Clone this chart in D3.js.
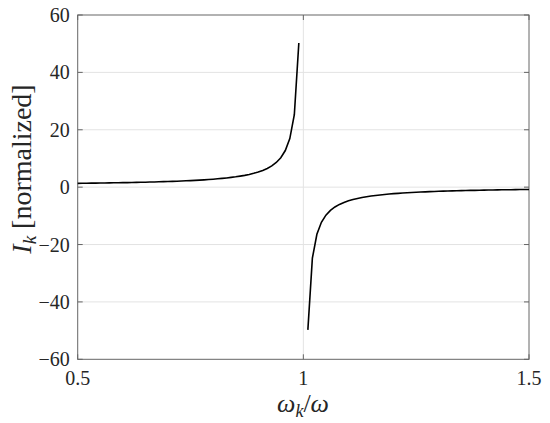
<!DOCTYPE html>
<html><head><meta charset="utf-8">
<script src="https://cdn.jsdelivr.net/npm/d3@7/dist/d3.min.js"></script>
<style>body{margin:0;background:#fff}svg{display:block}</style>
</head><body><svg id="c" width="550" height="423"></svg>
<script>
const xLeft = [0.50,0.51,0.52,0.53,0.54,0.55,0.56,0.57,0.58,0.59,0.60,0.61,0.62,0.63,0.64,0.65,0.66,0.67,0.68,0.69,0.70,0.71,0.72,0.73,0.74,0.75,0.76,0.77,0.78,0.79,0.80,0.81,0.82,0.83,0.84,0.85,0.86,0.87,0.88,0.89,0.90,0.91,0.92,0.93,0.94,0.95,0.96,0.97,0.98,0.99];
const yLeft = [1.33,1.35,1.37,1.39,1.41,1.43,1.46,1.48,1.51,1.53,1.56,1.59,1.62,1.66,1.69,1.73,1.77,1.81,1.86,1.91,1.96,2.02,2.08,2.14,2.21,2.29,2.37,2.46,2.55,2.66,2.78,2.91,3.05,3.21,3.40,3.60,3.84,4.11,4.43,4.81,5.26,5.82,6.51,7.40,8.59,10.26,12.76,16.92,25.25,50.25];
const xRight = [1.01,1.02,1.03,1.04,1.05,1.06,1.07,1.08,1.09,1.10,1.11,1.12,1.13,1.14,1.15,1.16,1.17,1.18,1.19,1.20,1.21,1.22,1.23,1.24,1.25,1.26,1.27,1.28,1.29,1.30,1.31,1.32,1.33,1.34,1.35,1.36,1.37,1.38,1.39,1.40,1.41,1.42,1.43,1.44,1.45,1.46,1.47,1.48,1.49,1.50];
const yRight = [-49.75,-24.75,-16.42,-12.25,-9.76,-8.09,-6.90,-6.01,-5.32,-4.76,-4.31,-3.93,-3.61,-3.34,-3.10,-2.89,-2.71,-2.55,-2.40,-2.27,-2.16,-2.05,-1.95,-1.86,-1.78,-1.70,-1.63,-1.57,-1.51,-1.45,-1.40,-1.35,-1.30,-1.26,-1.22,-1.18,-1.14,-1.11,-1.07,-1.04,-1.01,-0.98,-0.96,-0.93,-0.91,-0.88,-0.86,-0.84,-0.82,-0.80];
const xTicks = [0.5, 1, 1.5];
const xTickLabels = ["0.5", "1", "1.5"];
const yTicks = [-60, -40, -20, 0, 20, 40, 60];
const yTickLabels = ["\u221260", "\u221240", "\u221220", "0", "20", "40", "60"];

const svg = d3.select("#c");
const L = 77.7, R = 529, T = 15, B = 359.3;
const x = d3.scaleLinear().domain([0.5, 1.5]).range([L, R]);
const y = d3.scaleLinear().domain([-60, 60]).range([B, T]);
const font = "'Liberation Serif','Times New Roman',serif";
const axisCol = "#666";

// grid
svg.append("g").selectAll("line").data(yTicks.slice(1, -1)).join("line")
  .attr("x1", L).attr("x2", R).attr("y1", d => y(d)).attr("y2", d => y(d))
  .attr("stroke", "#e3e3e3").attr("stroke-width", 1);
svg.append("g").selectAll("line").data(xTicks.slice(1, -1)).join("line")
  .attr("y1", T).attr("y2", B).attr("x1", d => x(d)).attr("x2", d => x(d))
  .attr("stroke", "#e3e3e3").attr("stroke-width", 1);

// box
svg.append("rect").attr("x", L).attr("y", T).attr("width", R - L).attr("height", B - T)
  .attr("fill", "none").attr("stroke", axisCol).attr("stroke-width", 1);

// ticks (inward)
const tl = 5;
yTicks.forEach(v => {
  svg.append("line").attr("x1", L).attr("x2", L + tl).attr("y1", y(v)).attr("y2", y(v)).attr("stroke", axisCol);
  svg.append("line").attr("x1", R).attr("x2", R - tl).attr("y1", y(v)).attr("y2", y(v)).attr("stroke", axisCol);
});
xTicks.forEach(v => {
  svg.append("line").attr("y1", B).attr("y2", B - tl).attr("x1", x(v)).attr("x2", x(v)).attr("stroke", axisCol);
  svg.append("line").attr("y1", T).attr("y2", T + tl).attr("x1", x(v)).attr("x2", x(v)).attr("stroke", axisCol);
});

// tick labels
svg.append("g").selectAll("text").data(yTicks).join("text")
  .attr("x", L - 8).attr("y", d => y(d)).attr("dy", "0.35em")
  .attr("text-anchor", "end").attr("font-family", font).attr("font-size", 20).attr("fill", "#262626")
  .text((d, i) => yTickLabels[i]);
svg.append("g").selectAll("text").data(xTicks).join("text")
  .attr("x", d => x(d)).attr("y", 385)
  .attr("text-anchor", "middle").attr("font-family", font).attr("font-size", 20).attr("fill", "#262626")
  .text((d, i) => xTickLabels[i]);

// curve
const line = d3.line().x(d => x(d[0])).y(d => y(d[1]));
svg.append("path").datum(xLeft.map((v, i) => [v, yLeft[i]]))
  .attr("d", line).attr("fill", "none").attr("stroke", "#000").attr("stroke-width", 1.6);
svg.append("path").datum(xRight.map((v, i) => [v, yRight[i]]))
  .attr("d", line).attr("fill", "none").attr("stroke", "#000").attr("stroke-width", 1.6);

// x label
const xl = svg.append("text").attr("x", 303).attr("y", 412).attr("text-anchor", "middle")
  .attr("font-family", font).attr("font-size", 26).attr("fill", "#262626");
xl.append("tspan").attr("font-style", "italic").text("\u03c9");
xl.append("tspan").attr("font-style", "italic").attr("font-size", 18).attr("dy", 5).text("k");
xl.append("tspan").attr("dy", -5).text("/");
xl.append("tspan").attr("font-style", "italic").text("\u03c9");

// y label
const yl = svg.append("text").attr("transform", "translate(31,169) rotate(-90)")
  .attr("text-anchor", "middle").attr("font-family", font).attr("font-size", 28).attr("fill", "#262626");
yl.append("tspan").attr("font-style", "italic").text("I");
yl.append("tspan").attr("font-style", "italic").attr("font-size", 19).attr("dy", 5).text("k");
yl.append("tspan").attr("dy", -5).text(" [normalized]");
</script></body></html>
